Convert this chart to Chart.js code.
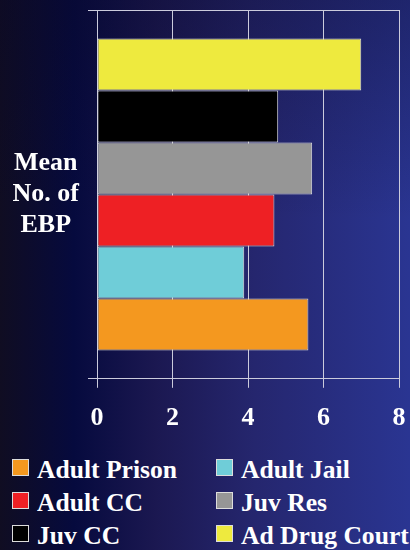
<!DOCTYPE html>
<html>
<head>
<meta charset="utf-8">
<script src="https://cdn.jsdelivr.net/npm/chart.js@4/dist/chart.umd.min.js"></script>
<style>
  html, body { margin: 0; padding: 0; }
  body {
    width: 410px; height: 550px; overflow: hidden; position: relative;
    background:
      linear-gradient(to bottom, rgba(10, 8, 40, 0.35), rgba(10, 8, 40, 0) 40%),
      linear-gradient(to right, #100d22 0%, #060a3e 18%, #1b1851 38%, #25266e 62%, #2a3592 100%);
    font-family: "Liberation Serif", "Times New Roman", serif;
  }
  #wrap { position: absolute; left: 0; top: 0; width: 410px; height: 454px; }
  #legend {
    position: absolute; left: 12px; top: 457px;
    display: grid; grid-template-columns: 204px 200px; row-gap: 7px;
  }
  .item { display: flex; align-items: flex-start; height: 26px; white-space: nowrap; }
  .box { width: 15px; height: 15px; border: 1px solid #dcdcdc; margin: 2px 8px 0 0; }
  .item span { color: #fff; font-weight: bold; font-size: 25.6px; line-height: 26px; }
</style>
</head>
<body>
<div id="wrap"><canvas id="ebpChart"></canvas></div>
<div id="legend"></div>
<script>
const categories = [['Mean', 'No. of', 'EBP']];
const seriesNames = ['Ad Drug Court', 'Juv CC', 'Juv Res', 'Adult CC', 'Adult Jail', 'Adult Prison'];
const seriesValues = [7.0, 4.8, 5.7, 4.7, 3.9, 5.6];
const seriesColors = ['#eeea3e', '#000000', '#969696', '#ee2024', '#6fcdd8', '#f4981f'];
const xTicks = [0, 2, 4, 6, 8];

const font = { family: '"Liberation Serif", "Times New Roman", serif', size: 26, weight: 'bold' };
const gridColor = '#cbcbdc';

const datasets = seriesNames.map((name, i) => ({
    label: name,
    data: [seriesValues[i]],
    backgroundColor: seriesColors[i],
    borderColor: '#dedede',
    borderWidth: 1,
    borderSkipped: false,
    barPercentage: 1,
    categoryPercentage: 0.846
}));

const chart = new Chart(document.getElementById('ebpChart'), {
    type: 'bar',
    data: { labels: categories, datasets: datasets },
    options: {
        indexAxis: 'y',
        responsive: true,
        maintainAspectRatio: false,
        animation: false,
        layout: { padding: { top: 10, right: 11, left: 10, bottom: 5 } },
        plugins: { legend: { display: false }, tooltip: { enabled: false } },
        scales: {
            x: {
                min: 0, max: 8,
                afterBuildTicks: s => { s.ticks = xTicks.map(v => ({ value: v })); },
                // the "8" may sit in the right margin
                afterFit: s => { s.paddingLeft = 0; s.paddingRight = 0; },
                grid: { color: gridColor, lineWidth: 1, tickLength: 9 },
                border: { color: gridColor },
                ticks: { color: '#ffffff', font: font, padding: 15, maxRotation: 0 }
            },
            y: {
                // fixed width, and no extra room for the tall three-line label
                afterFit: s => { s.width = 87; s.paddingTop = 0; s.paddingBottom = 0; },
                grid: { color: gridColor, lineWidth: 1, tickLength: 9, offset: true },
                border: { color: gridColor },
                ticks: { color: '#ffffff', font: Object.assign({ lineHeight: 1.18 }, font), crossAlign: 'center', padding: 9 }
            }
        }
    }
});

// legend: bottom-most bar first, two per row
const legend = document.getElementById('legend');
chart.data.datasets.slice().reverse().forEach(ds => {
    const item = document.createElement('div');
    item.className = 'item';
    const box = document.createElement('div');
    box.className = 'box';
    box.style.background = ds.backgroundColor;
    const text = document.createElement('span');
    text.textContent = ds.label;
    item.appendChild(box);
    item.appendChild(text);
    legend.appendChild(item);
});
</script>
</body>
</html>
